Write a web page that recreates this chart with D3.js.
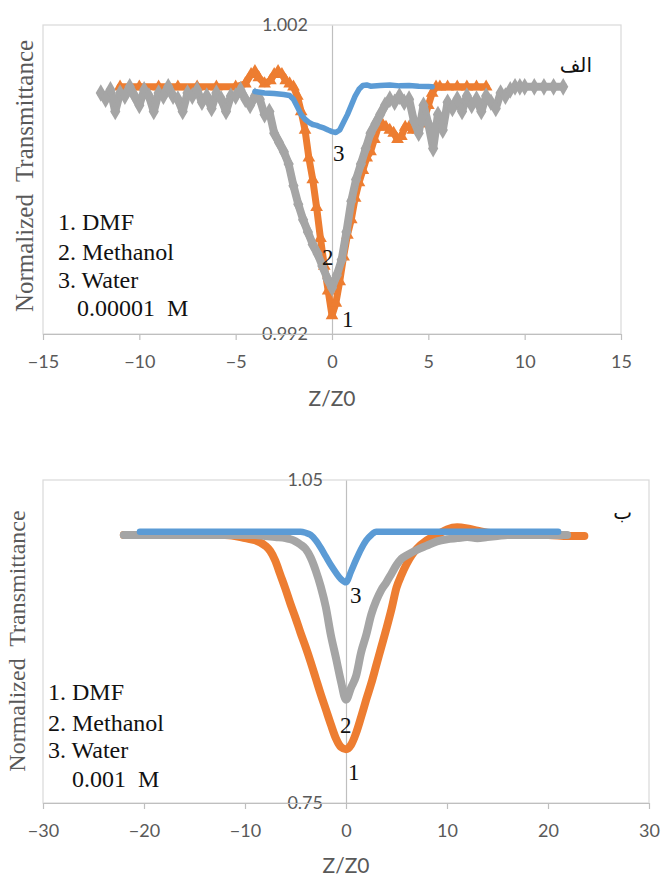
<!DOCTYPE html>
<html><head><meta charset="utf-8">
<script src="https://cdn.jsdelivr.net/npm/d3@7"></script>
<style>body{margin:0;background:#fff} text{white-space:pre}</style>
</head><body><svg id="c" width="662" height="876"></svg>
<script>
// ---------- Top chart (0.00001 M) ----------
const topXTicks = [-15,-10,-5,0,5,10,15];
const topYTicks = [0.992, 1.002];
const topYTickLabels = ["0.992","1.002"];

const topDmfZ = [-11,-10,-9,-8,-7,-6,-5,-4.5,-4.2,-4,-3.8,-3.5,-3.2,-3,-2.8,-2.6,-2.4,-2.2,-2,-1.8,-1.6,-1.4,-1.2,-1,-0.8,-0.6,-0.4,-0.2,0,0.2,0.4,0.6,0.8,1,1.2,1.4,1.6,1.8,2,2.2,2.4,2.6,2.8,3,3.2,3.4,3.6,3.8,4,4.2,4.4,4.6,4.8,5,5.2,5.4,5.6,6,6.5,7,7.5,8];
const topDmfT = [1,1,1,1,1,1,1,1.0001,1.0004,1.0005,1.0003,1.0001,1.0002,1.0004,1.0005,1.0004,1.0002,1.0001,1.0000,
  0.9997,0.9992,0.9986,0.9977,0.9970,0.9961,0.9951,0.9942,0.9934,0.9926,
  0.9930,0.9937,0.9945,0.9952,0.9957,0.9964,0.9969,0.9973,0.9977,0.9979,
  0.9983,0.9987,0.9988,0.9987,0.9986,0.9985,0.9983,0.9984,0.9987,0.9987,
  0.9986,0.9987,0.9988,0.9990,0.9994,0.9998,1.0,1.0,1,1,1,1,1];

const topMethZ = [-12,-11.75,-11.5,-11.25,-11,-10.75,-10.5,-10.25,-10,-9.75,-9.5,-9.25,-9,-8.75,-8.5,-8.25,-8,-7.75,-7.5,-7.25,-7,-6.75,-6.5,-6.25,-6,-5.75,-5.5,-5.25,-5,-4.75,-4.5,-4.25,-4,-3.75,-3.5,-3.25,-3,-2.75,-2.5,-2.25,-2,-1.75,-1.5,-1.25,-1,-0.75,-0.5,-0.25,0,0.25,0.5,0.75,1,1.25,1.5,1.75,2,2.25,2.5,2.75,3,3.25,3.5,3.75,4,4.25,4.5,4.75,5,5.25,5.5,5.75,6,6.25,6.5,6.75,7,7.25,7.5,7.75,8,8.25,8.5,8.75,9,9.25,9.5,9.75,10,10.5,11,11.5,12];
const topMethT = [0.9998,0.9996,0.9999,0.9992,0.9998,0.9997,1.0000,0.9997,0.9994,0.9999,0.9997,0.9992,0.9998,0.9997,1.0000,0.9997,0.9996,0.9992,0.9998,0.9997,0.9999,0.9995,0.9997,0.9993,0.9998,0.9996,0.9992,0.9997,0.9997,0.9999,0.9996,0.9994,0.9997,0.9996,0.9991,0.9992,
  0.9985,0.9982,0.9979,0.9975,0.9968,0.9962,0.9957,0.9953,0.9949,0.9946,0.9942,0.9938,0.9935,
  0.9939,0.9944,0.9953,0.9963,0.9970,0.9975,0.9980,0.9985,0.9988,0.9991,0.9994,0.9996,0.9995,0.9997,0.9995,0.9996,
  0.9989,0.9985,0.9994,0.9988,0.9980,0.9991,0.9986,0.9995,0.9993,0.9996,0.9992,0.9997,0.9994,0.9996,0.9992,0.9997,0.9995,0.9993,0.9998,0.9997,0.9999,1.0000,1.0,1.0,1.0,1.0,1.0,1.0];

const topWaterZ = [-4,-3.5,-3,-2.5,-2.2,-2,-1.8,-1.6,-1.4,-1.2,-1,-0.8,-0.6,-0.4,-0.2,0,0.2,0.4,0.6,0.8,1,1.2,1.4,1.6,1.8,2,2.5,3,3.5,4,4.5,5,5.2];
const topWaterT = [0.99985,0.99980,0.99978,0.99975,0.99972,0.99960,0.99935,0.99910,0.99895,0.99885,0.99878,0.99875,0.99870,0.99866,0.99860,0.99855,0.99852,0.99860,0.99885,0.99910,0.99940,0.99970,0.99992,1.00004,1.00006,1.00002,1.00004,1.00006,1.00003,1.00004,1.00002,1.00001,1.0];

// ---------- Bottom chart (0.001 M) ----------
const botXTicks = [-30,-20,-10,0,10,20,30];
const botYTicks = [0.75, 1.05];
const botYTickLabels = ["0.75","1.05"];

const botDmfZ = [-22,-20,-18,-16,-14,-12,-11,-10,-9,-8,-7.5,-7,-6.5,-6,-5.5,-5,-4.5,-4,-3.5,-3,-2.5,-2,-1.5,-1,-0.5,0,0.5,1,1.5,2,2.5,3,3.5,4,4.5,5,5.5,6,6.5,7,8,9,10,11,12,13,14,15,16,18,20,22,23.6];
const botDmfT = [0.999,0.999,0.999,0.999,0.999,0.999,0.998,0.996,0.994,0.989,0.984,0.975,0.962,0.949,0.935,0.922,0.908,0.895,0.881,0.866,0.851,0.837,0.823,0.810,0.802,0.800,0.804,0.815,0.830,0.846,0.861,0.878,0.895,0.912,0.930,0.950,0.962,0.972,0.980,0.986,0.994,0.999,1.004,1.006,1.005,1.003,1.001,1.000,0.999,0.999,0.999,0.998,0.998];

const botMethZ = [-22,-20,-18,-16,-14,-12,-10,-9,-8,-7,-6,-5.5,-5,-4.5,-4,-3.5,-3,-2.5,-2,-1.5,-1,-0.5,0,0.5,1,1.5,2,2.5,3,3.5,4,4.5,5,5.5,6,7,8,9,10,11,12,13,14,15,16,17,18,19,20,21,21.9];
const botMethT = [0.999,0.999,0.999,0.999,0.999,0.999,0.999,0.999,0.998,0.997,0.996,0.995,0.993,0.990,0.986,0.978,0.966,0.951,0.932,0.906,0.885,0.863,0.846,0.857,0.868,0.890,0.906,0.925,0.938,0.948,0.955,0.963,0.971,0.977,0.980,0.985,0.989,0.993,0.995,0.996,0.997,0.996,0.997,0.998,0.999,0.999,0.999,0.999,0.999,0.999,0.999];

const botWaterZ = [-20.4,-18,-15,-12,-9,-6,-4.5,-4,-3.5,-3,-2.5,-2,-1.5,-1,-0.5,0,0.5,1,1.5,2,2.5,3,3.5,4,6,9,12,15,18,21];
const botWaterT = [1.002,1.002,1.002,1.002,1.002,1.002,1.002,1.001,0.999,0.994,0.987,0.979,0.971,0.964,0.958,0.955,0.965,0.976,0.986,0.994,0.999,1.002,1.002,1.002,1.002,1.002,1.002,1.002,1.002,1.002];

const legendLines = ["1. DMF","2. Methanol","3. Water"];

// ---------- Drawing ----------
const svg = d3.select('#c');
svg.append('rect').attr('width',662).attr('height',876).attr('fill','#fff');
const ORANGE = '#ED7D31', GRAY = '#A5A5A5', BLUE = '#5B9BD5';
const TICKFONT = '"Lato"';
const SERIF = '"Liberation Serif"';

function panel(c) {
  const g = svg.append('g');
  const x = d3.scaleLinear().domain(c.xDomain).range([c.left, c.right]);
  const y = d3.scaleLinear().domain(c.yDomain).range([c.bottom, c.top]);
  g.append('rect').attr('x', c.left).attr('y', c.top).attr('width', c.right - c.left).attr('height', c.bottom - c.top)
    .attr('fill', 'none').attr('stroke', '#d9d9d9').attr('stroke-width', 1.2);
  const ya = g.append('g').attr('transform', `translate(${x(0)},0)`)
    .call(d3.axisLeft(y).tickValues(c.yTicks).tickFormat((d,i)=>c.yLabels[i]).tickSizeInner(0).tickSizeOuter(0).tickPadding(c.yPad));
  ya.select('.domain').attr('stroke', '#bfbfbf').attr('stroke-width', 1.2);
  ya.selectAll('text').style('font-family', TICKFONT).attr('font-size', 18).attr('fill', '#595959');
  const xa = g.append('g').attr('transform', `translate(0,${c.bottom})`)
    .call(d3.axisBottom(x).tickValues(c.xTicks).tickSizeInner(6).tickSizeOuter(0));
  xa.select('.domain').attr('stroke', '#bfbfbf').attr('stroke-width', 1.2);
  xa.selectAll('line').attr('stroke', '#bfbfbf').attr('stroke-width', 1.2);
  xa.selectAll('text').style('font-family', TICKFONT).attr('font-size', 18).attr('fill', '#595959')
    .attr('y', 28).attr('dy', '0.35em');
  const plot = g.append('g');
  c.series.forEach(s => {
    const pts = s.z.map((d,i)=>[d, s.t[i]]);
    plot.append('path').datum(pts)
      .attr('d', d3.line().x(d=>x(d[0])).y(d=>y(d[1])).curve(s.curve || d3.curveLinear))
      .attr('fill','none').attr('stroke', s.color).attr('stroke-width', s.width)
      .attr('stroke-linejoin','round').attr('stroke-linecap','round');
    if (s.symbol) {
      plot.selectAll(null).data(pts).join('path')
        .attr('transform', d=>`translate(${x(d[0])},${y(d[1])})`)
        .attr('d', d3.symbol(s.symbol, s.symSize)).attr('fill', s.color);
    }
  });
  g.append('text').attr('x', x(0)).attr('y', c.xTitleY).attr('text-anchor','middle')
    .style('font-family', TICKFONT).attr('font-size', 21).attr('fill','#595959').text('Z/Z0');
  g.append('text').style('font-family', SERIF).attr('transform', `translate(${c.yTitleX},${c.yTitleY}) rotate(-90)`).attr('text-anchor','middle')
    .attr('font-size', c.yTitleSize).attr('fill','#595959').text('Normalized  Transmittance');
  legendLines.forEach((t,i) => {
    g.append('text').style('font-family', SERIF).attr('x', c.legX).attr('y', c.legY[i]).attr('font-size', 24)
      .attr('fill','#111').text(t);
  });
  g.append('text').style('font-family', SERIF).attr('x', c.concX).attr('y', c.legY[3]).attr('font-size', 24)
    .attr('fill','#111').text(c.conc);
  c.numLabels.forEach(l => {
    g.append('text').style('font-family', SERIF).attr('x', l[1]).attr('y', l[2]).attr('font-size', 23)
      .attr('fill','#111').text(l[0]);
  });
  g.append('text').attr('x', c.arX).attr('y', c.arY).attr('text-anchor','end').style('font-family','"DejaVu Sans"')
    .attr('font-size', 20).attr('fill','#111').text(c.ar);
}

panel({
  left: 43, right: 621, top: 25, bottom: 334,
  xDomain: [-15, 15], yDomain: [0.992, 1.002],
  xTicks: topXTicks, yTicks: topYTicks, yLabels: topYTickLabels, yPad: 24,
  series: [
    {z: topDmfZ, t: topDmfT, color: ORANGE, width: 7, symbol: d3.symbolTriangle, symSize: 70},
    {z: topMethZ, t: topMethT, color: GRAY, width: 8, symbol: d3.symbolDiamond, symSize: 90},
    {z: topWaterZ, t: topWaterT, color: BLUE, width: 5.5}
  ],
  xTitleY: 406, yTitleX: 33, yTitleY: 176, yTitleSize: 25,
  legX: 58, legY: [230, 260, 288, 316], concX: 77, conc: '0.00001  M',
  numLabels: [['3', 333, 161], ['2', 322, 265], ['1', 342, 327]],
  ar: 'الف', arX: 592, arY: 72
});

panel({
  left: 43, right: 649, top: 480, bottom: 803,
  xDomain: [-30, 30], yDomain: [0.75, 1.05],
  xTicks: botXTicks, yTicks: botYTicks, yLabels: botYTickLabels, yPad: 23,
  series: [
    {z: botDmfZ, t: botDmfT, color: ORANGE, width: 8, curve: d3.curveMonotoneX},
    {z: botMethZ, t: botMethT, color: GRAY, width: 8, curve: d3.curveMonotoneX},
    {z: botWaterZ, t: botWaterT, color: BLUE, width: 6.5, curve: d3.curveMonotoneX}
  ],
  xTitleY: 873, yTitleX: 25, yTitleY: 641, yTitleSize: 24,
  legX: 48, legY: [700, 731, 758, 787], concX: 72, conc: '0.001  M',
  numLabels: [['3', 350, 603], ['2', 340, 733], ['1', 348, 780]],
  ar: 'ب', arX: 632, arY: 519
});
</script></body></html>
